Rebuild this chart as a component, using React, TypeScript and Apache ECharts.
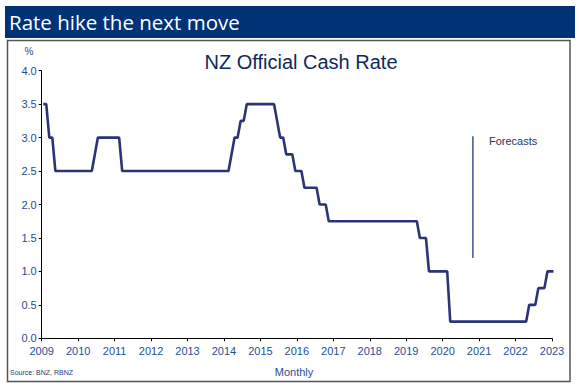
import React, { useEffect, useRef } from "react";
import * as echarts from "echarts";

// Monthly NZ Official Cash Rate (%), Jan of each year to Dec
const years = [2009, 2010, 2011, 2012, 2013, 2014, 2015, 2016, 2017, 2018, 2019, 2020, 2021, 2022, 2023];
const ocr2009 = [3.5, 3.5, 3.0, 3.0, 2.5, 2.5, 2.5, 2.5, 2.5, 2.5, 2.5, 2.5];
const ocr2010 = [2.5, 2.5, 2.5, 2.5, 2.5, 2.75, 3.0, 3.0, 3.0, 3.0, 3.0, 3.0];
const ocr2011 = [3.0, 3.0, 2.5, 2.5, 2.5, 2.5, 2.5, 2.5, 2.5, 2.5, 2.5, 2.5];
const ocr2012 = [2.5, 2.5, 2.5, 2.5, 2.5, 2.5, 2.5, 2.5, 2.5, 2.5, 2.5, 2.5];
const ocr2013 = [2.5, 2.5, 2.5, 2.5, 2.5, 2.5, 2.5, 2.5, 2.5, 2.5, 2.5, 2.5];
const ocr2014 = [2.5, 2.5, 2.75, 3.0, 3.0, 3.25, 3.25, 3.5, 3.5, 3.5, 3.5, 3.5];
const ocr2015 = [3.5, 3.5, 3.5, 3.5, 3.5, 3.25, 3.0, 3.0, 2.75, 2.75, 2.75, 2.5];
const ocr2016 = [2.5, 2.5, 2.25, 2.25, 2.25, 2.25, 2.25, 2.0, 2.0, 2.0, 1.75, 1.75];
const ocr2017 = [1.75, 1.75, 1.75, 1.75, 1.75, 1.75, 1.75, 1.75, 1.75, 1.75, 1.75, 1.75];
const ocr2018 = [1.75, 1.75, 1.75, 1.75, 1.75, 1.75, 1.75, 1.75, 1.75, 1.75, 1.75, 1.75];
const ocr2019 = [1.75, 1.75, 1.75, 1.75, 1.5, 1.5, 1.5, 1.0, 1.0, 1.0, 1.0, 1.0];
const ocr2020 = [1.0, 1.0, 0.25, 0.25, 0.25, 0.25, 0.25, 0.25, 0.25, 0.25, 0.25, 0.25];
const ocr2021 = [0.25, 0.25, 0.25, 0.25, 0.25, 0.25, 0.25, 0.25, 0.25, 0.25, 0.25, 0.25];
const ocr2022 = [0.25, 0.25, 0.25, 0.25, 0.5, 0.5, 0.5, 0.75, 0.75, 0.75, 1.0, 1.0];
const ocr2023 = [1.0];
const ocrByYear = [ocr2009, ocr2010, ocr2011, ocr2012, ocr2013, ocr2014, ocr2015, ocr2016, ocr2017, ocr2018, ocr2019, ocr2020, ocr2021, ocr2022, ocr2023];

// Forecast divider (decimal year) and its vertical extent (%)
const forecastX = [2020.83, 2020.83];
const forecastY = [1.2, 3.02];

const yTicks = [0, 0.5, 1, 1.5, 2, 2.5, 3, 3.5, 4];
const xTicks = years;

export default function App() {
  const ref = useRef<HTMLDivElement>(null);
  useEffect(() => {
    if (!ref.current) return;
    const chart = echarts.init(ref.current, null, { renderer: "svg" });
    const lineData: [number, number][] = [];
    ocrByYear.forEach((arr, yi) => {
      arr.forEach((v, m) => {
        lineData.push([years[yi] + (m + 0.5) / 12, v]);
      });
    });
    const fData = forecastX.map((x, i) => [x, forecastY[i]]);
    const labelColor = "#1F4E96";
    chart.setOption({
      animation: false,
      backgroundColor: "#ffffff",
      grid: { left: 41.7, right: 27, top: 70.7, bottom: 47.7, containLabel: false },
      xAxis: {
        type: "value",
        min: xTicks[0],
        max: xTicks[xTicks.length - 1],
        interval: 1,
        axisLine: { show: true, onZero: false, lineStyle: { color: "#000", width: 1 } },
        axisTick: { show: true, inside: false, length: 3, lineStyle: { color: "#000" } },
        splitLine: { show: false },
        axisLabel: {
          color: labelColor,
          fontFamily: "Liberation Sans, Arial, sans-serif",
          fontSize: 11,
          margin: 7,
          formatter: (v: number) => String(Math.round(v)),
        },
      },
      yAxis: {
        type: "value",
        min: yTicks[0],
        max: yTicks[yTicks.length - 1],
        interval: 0.5,
        axisLine: { show: true, lineStyle: { color: "#000", width: 1 } },
        axisTick: { show: true, inside: false, length: 3, lineStyle: { color: "#000" } },
        splitLine: { show: false },
        axisLabel: {
          color: labelColor,
          fontFamily: "Liberation Sans, Arial, sans-serif",
          fontSize: 11,
          margin: 5,
          formatter: (v: number) => v.toFixed(1),
        },
      },
      series: [
        {
          type: "line",
          data: lineData,
          showSymbol: false,
          symbol: "none",
          clip: false,
          lineStyle: { color: "#2B3476", width: 2.6 },
        },
        {
          type: "line",
          data: fData,
          showSymbol: false,
          symbol: "none",
          lineStyle: { color: "#1F3A78", width: 1.3 },
        },
      ],
      graphic: [
        {
          type: "rect",
          shape: { x: 5, y: 6, width: 570, height: 32 },
          style: { fill: "#013275" },
          silent: true,
        },
        {
          type: "text",
          x: 9,
          y: 22,
          style: {
            text: "Rate hike the next move",
            fill: "#ffffff",
            font: "20.5px 'Open Sans', sans-serif",
            textVerticalAlign: "middle",
          },
        },
        {
          type: "rect",
          shape: { x: 7.5, y: 40.5, width: 562.5, height: 341 },
          style: { fill: "none", stroke: "#555555", lineWidth: 1.5 },
          silent: true,
        },
        {
          type: "text",
          x: 301,
          y: 62,
          style: {
            text: "NZ Official Cash Rate",
            fill: "#0D2A5C",
            font: "20px 'Liberation Sans', Arial, sans-serif",
            textAlign: "center",
            textVerticalAlign: "middle",
          },
        },
        {
          type: "text",
          x: 29,
          y: 51,
          style: {
            text: "%",
            fill: labelColor,
            font: "10px 'Liberation Sans', Arial, sans-serif",
            textAlign: "center",
            textVerticalAlign: "middle",
          },
        },
        {
          type: "text",
          x: 489,
          y: 141,
          style: {
            text: "Forecasts",
            fill: "#1F3864",
            font: "11px 'Liberation Sans', Arial, sans-serif",
            textVerticalAlign: "middle",
          },
        },
        {
          type: "text",
          x: 294,
          y: 372,
          style: {
            text: "Monthly",
            fill: labelColor,
            font: "11px 'Liberation Sans', Arial, sans-serif",
            textAlign: "center",
            textVerticalAlign: "middle",
          },
        },
        {
          type: "text",
          x: 10,
          y: 372,
          style: {
            text: "Source: BNZ, RBNZ",
            fill: "#1F3A78",
            font: "7px 'Liberation Sans', Arial, sans-serif",
            textVerticalAlign: "middle",
          },
        },
      ],
    });
    return () => chart.dispose();
  }, []);
  return (
    <div
      ref={ref}
      style={{ position: "absolute", left: 0, top: 0, width: 579, height: 386 }}
    />
  );
}
